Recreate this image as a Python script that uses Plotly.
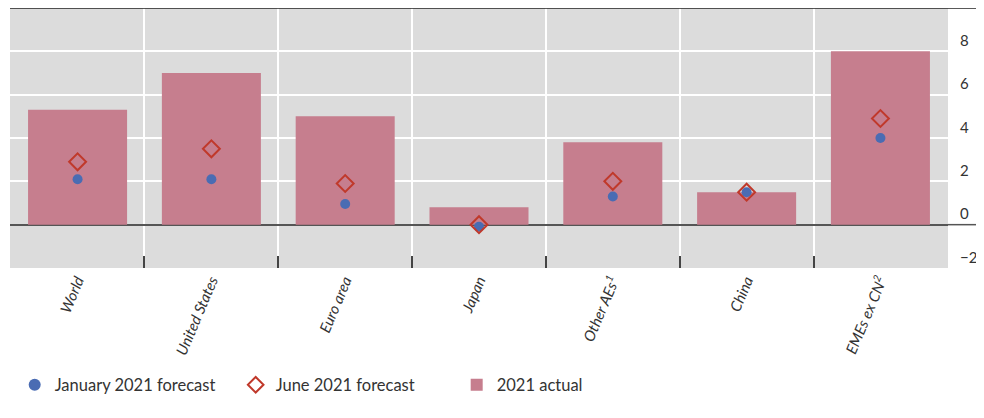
import plotly.graph_objects as go

categories = ["World", "United States", "Euro area", "Japan", "Other AEs<sup>1</sup>", "China", "EMEs ex CN<sup>2</sup>"]
actual_2021 = [5.3, 7.0, 5.0, 0.8, 3.8, 1.5, 8.0]
june_forecast = [2.9, 3.5, 1.9, 0.0, 2.0, 1.5, 4.9]
jan_forecast = [2.1, 2.1, 0.95, -0.1, 1.3, 1.5, 4.0]
y_ticks = [-2, 0, 2, 4, 6, 8]

fig = go.Figure()
fig.add_trace(go.Bar(
    x=categories, y=actual_2021, name="2021 actual",
    marker=dict(color="#c67e8e", line=dict(width=0)), width=0.74, legendrank=3,
))
fig.add_trace(go.Scatter(
    x=categories, y=jan_forecast, mode="markers", name="January 2021 forecast",
    marker=dict(symbol="circle", size=10, color="#4a6cb3"), legendrank=1,
))
fig.add_trace(go.Scatter(
    x=categories, y=june_forecast, mode="markers", name="June 2021 forecast",
    marker=dict(symbol="diamond-open", size=13, color="#c0392b", line=dict(width=2)), legendrank=2,
))

fig.update_layout(
    width=976, height=410,
    margin=dict(l=2, r=36, t=0, b=150, autoexpand=False),
    paper_bgcolor="white", plot_bgcolor="#dcdcdc",
    font=dict(family="Lato", color="#333"),
    showlegend=True,
    legend=dict(orientation="h", x=0.005, y=-0.45, yanchor="middle", xanchor="left",
                font=dict(family="Lato", size=16.5, color="#333"),
                itemwidth=30, traceorder="normal", itemsizing="constant",
                entrywidth=176, entrywidthmode="pixels"),
    shapes=[
        dict(type="line", xref="paper", yref="paper", x0=0, x1=1.034, y0=1, y1=1,
             line=dict(color="#222", width=1.5)),
        dict(type="line", xref="paper", yref="y", x0=1, x1=1.034, y0=0, y1=0,
             line=dict(color="#555", width=1.5)),
    ],
)
fig.update_xaxes(
    range=[-0.505, 6.505],
    showgrid=True, gridcolor="white", gridwidth=1.5, tickson="boundaries",
    ticks="inside", ticklen=12, tickcolor="#444", tickwidth=1.5,
    tickangle=-67, tickfont=dict(family="Lato", size=15, style="italic", color="#333"),
    showline=False, zeroline=False,
)
fig.update_yaxes(
    side="right", range=[-2, 10], tickvals=y_ticks, ticktext=[("−2" if v < 0 else str(v)) for v in y_ticks],
    showgrid=True, gridcolor="white", gridwidth=1.5,
    zeroline=True, zerolinecolor="#555", zerolinewidth=1.5,
    ticks="", ticklabelposition="outside top", ticklabelstandoff=11,
    tickfont=dict(family="Lato", size=15, color="#333"),
    showline=False,
)
fig.write_html("out.html")
